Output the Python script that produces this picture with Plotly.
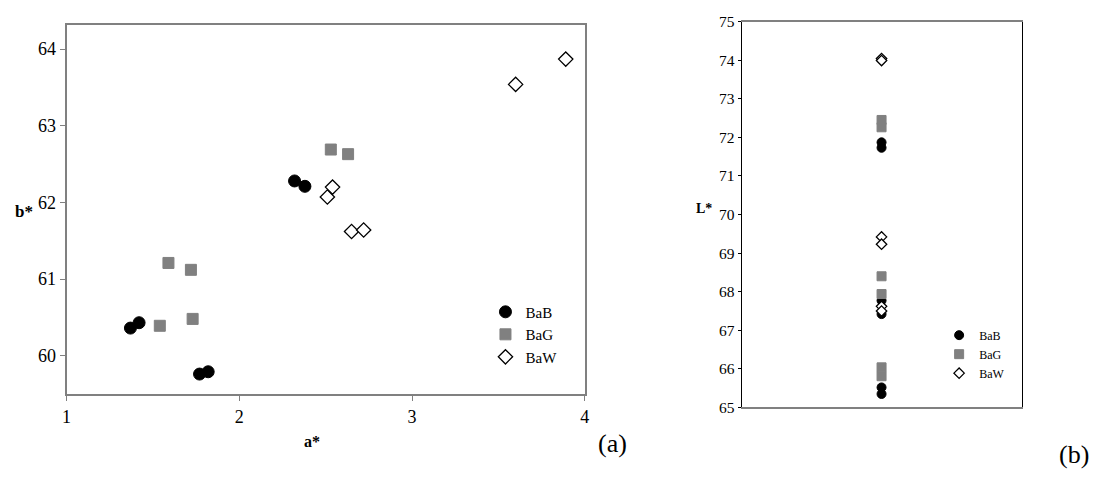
import plotly.graph_objects as go

W, H = 1097, 484

# (a) a* vs b*
bab_a = [1.37, 1.42, 1.77, 1.82, 2.32, 2.38]
bab_b = [60.36, 60.43, 59.76, 59.79, 62.28, 62.21]
bag_a = [1.54, 1.59, 1.72, 1.73, 2.53, 2.63]
bag_b = [60.39, 61.21, 61.12, 60.48, 62.69, 62.63]
baw_a = [2.51, 2.54, 2.65, 2.72, 3.60, 3.89]
baw_b = [62.07, 62.20, 61.62, 61.64, 63.54, 63.87]

# (b) L* (all samples share one x position)
bab_L = [71.87, 71.73, 67.77, 67.42, 65.52, 65.35]
bag_L = [72.45, 72.26, 68.40, 67.94, 66.04, 65.81]
baw_L = [74.04, 73.99, 69.42, 69.23, 67.62, 67.50]
x_pos = 1

a_ticks = [1, 2, 3, 4]
b_ticks = [60, 61, 62, 63, 64]
L_ticks = list(range(65, 76))

GRAY = "#808080"
FONT = "Liberation Serif"


def px(x):
    return x / W


def py(y):
    return 1 - y / H


styles = {
    "BaB": dict(symbol="circle", color="black", line=dict(color="black", width=1)),
    "BaG": dict(symbol="square", color=GRAY, line=dict(color=GRAY, width=1)),
    "BaW": dict(symbol="diamond", color="white", line=dict(color="black", width=1.3)),
}

fig = go.Figure()

for name, xs, ys, size in [("BaB", bab_a, bab_b, 12), ("BaG", bag_a, bag_b, 11), ("BaW", baw_a, baw_b, 11)]:
    fig.add_trace(go.Scatter(x=xs, y=ys, mode="markers", name=name,
                             marker=dict(size=size, **styles[name]),
                             xaxis="x", yaxis="y", legend="legend"))

for name, ys, size in [("BaB", bab_L, 9), ("BaG", bag_L, 9), ("BaW", baw_L, 8)]:
    fig.add_trace(go.Scatter(x=[x_pos] * len(ys), y=ys, mode="markers", name=name,
                             marker=dict(size=size, **styles[name]),
                             xaxis="x2", yaxis="y2", legend="legend2"))

axis_common = dict(showgrid=False, zeroline=False, mirror=True, showline=True)

fig.update_layout(
    width=W, height=H,
    margin=dict(l=0, r=0, t=0, b=0),
    paper_bgcolor="white", plot_bgcolor="white",
    font=dict(family=FONT, color="black"),
    xaxis=dict(domain=[px(63), px(585)], range=[1, 4], tickvals=a_ticks,
               ticks="outside", ticklen=5, tickcolor=GRAY, linecolor=GRAY, linewidth=2,
               tickfont=dict(size=18), anchor="y", **axis_common),
    yaxis=dict(domain=[py(399), py(17)], range=[59.5, 64.31], tickvals=b_ticks,
               ticks="outside", ticklen=5, tickcolor=GRAY, linecolor=GRAY, linewidth=2,
               tickfont=dict(size=18), anchor="x", **axis_common),
    xaxis2=dict(domain=[px(743), px(1025)], range=[0, 2], showticklabels=False,
                ticks="", linecolor=GRAY, linewidth=1.5, anchor="y2", **axis_common),
    yaxis2=dict(domain=[py(413), py(13)], range=[65, 75], tickvals=L_ticks,
                ticks="outside", ticklen=3, tickcolor="black", linecolor="black", linewidth=1,
                tickfont=dict(size=15.5), anchor="x2", **axis_common),
    legend=dict(x=px(485), y=py(297), xanchor="left", yanchor="top",
                font=dict(size=15), bgcolor="rgba(0,0,0,0)", itemwidth=30),
    legend2=dict(x=px(942), y=py(323), xanchor="left", yanchor="top",
                 font=dict(size=12), bgcolor="rgba(0,0,0,0)", itemwidth=30),
    showlegend=True,
)

labels = [
    ("<b>b*</b>", 20, 210, 17),
    ("<b>a*</b>", 310, 448, 16),
    ("<b>L*</b>", 705, 207, 14),
    ("(a)", 613, 450, 26),
    ("(b)", 1078, 462, 26),
]
for text, x, y, size in labels:
    fig.add_annotation(text=text, x=px(x), y=py(y), xref="paper", yref="paper",
                       showarrow=False, xanchor="center", yanchor="middle",
                       font=dict(size=size, family=FONT, color="black"))

# drop the page's default body margin so the figure sits at the window origin
fig.write_html("out.html", config={"displayModeBar": False},
               post_script="document.body.style.margin='0';")
